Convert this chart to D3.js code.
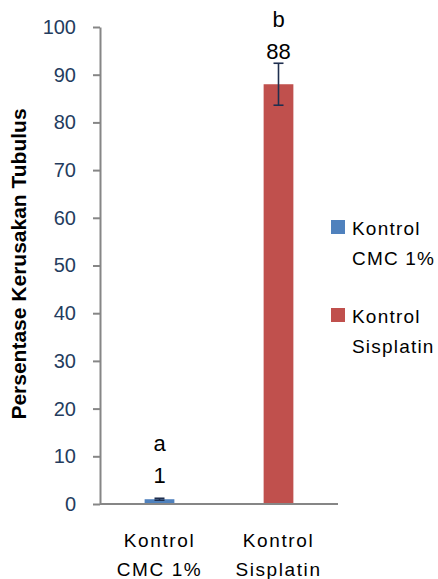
<!DOCTYPE html>
<html>
<head>
<meta charset="utf-8">
<script src="https://cdn.jsdelivr.net/npm/d3@7"></script>
<style>
  body { margin: 0; background: #fff; }
  text { font-family: "Liberation Sans", Arial, sans-serif; }
</style>
</head>
<body>
<svg id="chart"></svg>
<script>
// Data
const categories = ["Kontrol CMC 1%", "Kontrol Sisplatin"];
const catLines = [["Kontrol", "CMC 1%"], ["Kontrol", "Sisplatin"]];
const values = [1, 88];
const errors = [0.2, 4.4];
const letters = ["a", "b"];
const colors = ["#4F81BD", "#C0504D"];
const yTicks = [0, 10, 20, 30, 40, 50, 60, 70, 80, 90, 100];

const svg = d3.select("#chart")
    .attr("width", 438)
    .attr("height", 579);

// Scales
const x = d3.scaleBand()
    .domain(categories)
    .range([100, 338])
    .paddingInner(0.75)
    .paddingOuter(0.375);

const y = d3.scaleLinear()
    .domain([0, 100])
    .range([504, 27]);

// Y axis
const yAxis = svg.append("g")
    .attr("transform", "translate(100,0)")
    .call(d3.axisLeft(y).tickValues(yTicks).tickSize(7).tickSizeOuter(0).tickPadding(17));
yAxis.select(".domain").attr("stroke", "#868686").attr("stroke-width", 2);
yAxis.selectAll(".tick line").attr("stroke", "#868686").attr("stroke-width", 2);
yAxis.selectAll(".tick text")
    .attr("fill", "#243C5E")
    .style("font-size", "20px")
    .style("font-family", "Liberation Sans, Arial, sans-serif");

// X axis line
svg.append("line")
    .attr("x1", 100).attr("x2", 338)
    .attr("y1", y(0)).attr("y2", y(0))
    .attr("stroke", "#868686")
    .attr("stroke-width", 2);

// Bars
svg.append("g").selectAll("rect")
    .data(categories)
    .join("rect")
    .attr("x", d => x(d))
    .attr("width", x.bandwidth())
    .attr("y", (d, i) => y(values[i]))
    .attr("height", (d, i) => y(0) - y(values[i]) - 1)
    .attr("fill", (d, i) => colors[i]);

// Error bars
const err = svg.append("g")
    .attr("stroke", "#1F2F4F")
    .attr("stroke-width", 1.6);
categories.forEach((c, i) => {
    const cx = x(c) + x.bandwidth() / 2;
    const hi = y(values[i] + errors[i]);
    const lo = y(values[i] - errors[i]);
    err.append("line").attr("x1", cx).attr("x2", cx).attr("y1", hi).attr("y2", lo);
    err.append("line").attr("x1", cx - 5).attr("x2", cx + 5).attr("y1", hi).attr("y2", hi);
    err.append("line").attr("x1", cx - 5).attr("x2", cx + 5).attr("y1", lo).attr("y2", lo);
});

// Value labels and significance letters
categories.forEach((c, i) => {
    const cx = x(c) + x.bandwidth() / 2;
    const base = Math.min(y(values[i] + errors[i]) - 4, y(values[i]) - 16);
    svg.append("text")
        .attr("x", cx).attr("y", base)
        .attr("text-anchor", "middle")
        .style("font-size", "22px")
        .attr("fill", "#000")
        .text(values[i]);
    svg.append("text")
        .attr("x", cx).attr("y", base - 32)
        .attr("text-anchor", "middle")
        .style("font-size", "22px")
        .attr("fill", "#000")
        .text(letters[i]);
});

// Category labels
categories.forEach((c, i) => {
    const cx = x(c) + x.bandwidth() / 2;
    catLines[i].forEach((t, j) => {
        svg.append("text")
            .attr("x", cx).attr("y", 547 + j * 29)
            .attr("text-anchor", "middle")
            .style("font-size", "19px")
            .style("letter-spacing", "1.6px")
            .attr("fill", "#000")
            .text(t);
    });
});

// Y axis title
svg.append("text")
    .attr("transform", "translate(26,264) rotate(-90)")
    .attr("text-anchor", "middle")
    .style("font-size", "21px")
    .style("font-weight", "bold")
    .attr("fill", "#000")
    .text("Persentase Kerusakan Tubulus");

// Legend
const legend = svg.append("g");
categories.forEach((c, i) => {
    const ly = 220 + i * 88;
    legend.append("rect")
        .attr("x", 331).attr("y", ly)
        .attr("width", 14).attr("height", 14)
        .attr("fill", colors[i]);
    catLines[i].forEach((t, j) => {
        legend.append("text")
            .attr("x", 352).attr("y", ly + 15 + j * 30)
            .style("font-size", "19px")
            .style("letter-spacing", "1.2px")
            .attr("fill", "#000")
            .text(t);
    });
});
</script>
</body>
</html>
